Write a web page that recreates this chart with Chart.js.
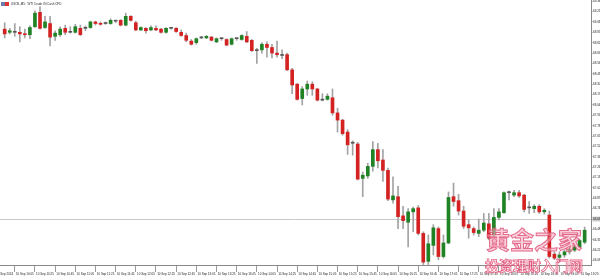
<!DOCTYPE html>
<html>
<head>
<meta charset="utf-8">
<script src="https://cdn.jsdelivr.net/npm/chart.js@4.4.1/dist/chart.umd.min.js"></script>
<style>
  html, body { margin: 0; padding: 0; background: #fff; }
  #wrap { position: relative; width: 600px; height: 277px; overflow: hidden; }
  .wm1 { position: absolute; left: 486px; top: 227px; font: 700 24px/1 "Noto Sans CJK SC", sans-serif;
         color: rgba(244, 175, 195, 0.6); -webkit-text-stroke: 1px rgba(224, 85, 120, 0.85); white-space: nowrap; }
  .wm2 { position: absolute; left: 485px; top: 258px; font: 700 14px/1 "Noto Sans CJK SC", sans-serif;
         color: rgba(255, 255, 255, 0.5); -webkit-text-stroke: 0.8px rgba(226, 70, 110, 0.85); white-space: nowrap; }
</style>
</head>
<body>
<div id="wrap">
  <canvas id="chart" width="600" height="277"></canvas>
  <div class="wm1">黄金之家</div>
  <div class="wm2">投资理财入门网</div>
</div>
<script>
// USOIL M5 candles
const opens = [68.99, 68.95, 68.95, 68.95, 68.93, 68.92, 69.02, 69.20, 69.01, 69.06,
  68.90, 68.92, 69.00, 68.95, 68.95, 69.00, 69.00, 69.01, 69.08, 69.06,
  69.06, 69.06, 69.09, 69.10, 69.04, 69.15, 69.07, 68.98, 69.00, 68.98,
  69.00, 68.99, 68.95, 69.00, 69.00, 68.95, 68.91, 68.84, 68.82, 68.88,
  68.88, 68.89, 68.83, 68.87, 68.86, 68.80, 68.87, 68.86, 68.90, 68.85,
  68.72, 68.73, 68.80, 68.76, 68.69, 68.66, 68.67, 68.48, 68.30, 68.12,
  68.24, 68.30, 68.24, 68.10, 68.11, 68.13, 67.94, 67.85, 67.70, 67.56,
  67.55, 67.12, 67.15, 67.27, 67.48, 67.35, 67.22, 66.85, 66.89, 66.65,
  66.57, 66.70, 66.75, 66.43, 66.08, 66.28, 66.49, 66.14, 66.31, 66.89,
  66.84, 66.71, 66.54, 66.49, 66.43, 66.47, 66.55, 66.41, 66.63, 66.69,
  66.94, 66.91, 66.94, 66.91, 66.75, 66.74, 66.77, 66.70, 66.66, 66.17,
  66.13, 66.16, 66.20, 66.22, 66.26, 66.32];
const highs = [69.07, 69.00, 69.06, 69.02, 68.99, 69.03, 69.22, 69.27, 69.15, 69.15,
  68.97, 69.02, 69.04, 69.02, 69.05, 69.04, 69.03, 69.09, 69.09, 69.08,
  69.08, 69.12, 69.10, 69.11, 69.19, 69.16, 69.09, 69.02, 69.01, 69.03,
  69.03, 69.00, 69.01, 69.01, 69.01, 68.98, 68.94, 68.86, 68.88, 68.90,
  68.91, 68.90, 68.88, 68.88, 68.87, 68.88, 68.88, 68.92, 68.96, 68.86,
  68.75, 68.82, 68.83, 68.80, 68.84, 68.73, 68.69, 68.50, 68.31, 68.27,
  68.34, 68.33, 68.25, 68.18, 68.18, 68.24, 68.00, 67.86, 67.73, 67.59,
  67.57, 67.20, 67.31, 67.58, 67.56, 67.48, 67.25, 67.14, 67.02, 66.77,
  66.74, 66.76, 66.78, 66.45, 66.41, 66.54, 66.51, 66.41, 66.95, 67.06,
  66.92, 66.77, 66.60, 66.51, 66.61, 66.68, 66.68, 66.74, 66.74, 66.95,
  66.96, 66.97, 66.97, 66.92, 66.83, 66.79, 66.79, 66.74, 66.71, 66.20,
  66.20, 66.22, 66.25, 66.29, 66.36, 66.51];
const lows = [68.88, 68.93, 68.90, 68.83, 68.88, 68.87, 69.01, 68.99, 69.00, 68.78,
  68.85, 68.90, 68.92, 68.94, 68.94, 68.91, 68.97, 69.00, 69.04, 69.04,
  69.05, 69.05, 69.07, 69.03, 69.03, 69.09, 68.97, 68.97, 68.94, 68.97,
  68.97, 68.94, 68.94, 68.99, 68.95, 68.90, 68.83, 68.79, 68.80, 68.87,
  68.87, 68.84, 68.82, 68.85, 68.78, 68.79, 68.85, 68.85, 68.82, 68.71,
  68.56, 68.69, 68.64, 68.63, 68.64, 68.62, 68.47, 68.18, 68.10, 68.04,
  68.16, 68.16, 68.09, 68.09, 68.10, 67.91, 67.70, 67.66, 67.42, 67.41,
  67.10, 66.89, 67.12, 67.21, 67.25, 67.08, 66.84, 66.81, 66.49, 66.49,
  66.26, 66.45, 66.41, 66.04, 66.04, 66.16, 66.10, 66.12, 66.30, 66.77,
  66.66, 66.49, 66.37, 66.41, 66.39, 66.45, 66.35, 66.39, 66.60, 66.68,
  66.85, 66.89, 66.88, 66.70, 66.68, 66.69, 66.68, 66.67, 66.12, 66.10,
  66.07, 66.13, 66.17, 66.20, 66.25, 66.30];
const closes = [68.93, 68.97, 68.95, 68.93, 68.92, 69.01, 69.19, 69.00, 69.08, 68.89,
  68.94, 68.99, 68.95, 68.95, 69.02, 68.92, 69.00, 69.08, 69.06, 69.05,
  69.06, 69.10, 69.09, 69.04, 69.15, 69.10, 68.98, 69.01, 68.97, 69.01,
  68.98, 68.95, 69.00, 69.00, 68.96, 68.91, 68.85, 68.80, 68.87, 68.88,
  68.90, 68.85, 68.87, 68.87, 68.79, 68.87, 68.87, 68.91, 68.83, 68.72,
  68.72, 68.80, 68.76, 68.69, 68.67, 68.66, 68.48, 68.29, 68.11, 68.24,
  68.30, 68.24, 68.10, 68.10, 68.15, 67.94, 67.85, 67.68, 67.54, 67.56,
  67.11, 67.16, 67.27, 67.48, 67.34, 67.22, 66.86, 66.90, 66.64, 66.59,
  66.70, 66.74, 66.43, 66.07, 66.30, 66.50, 66.14, 66.31, 66.88, 66.83,
  66.71, 66.52, 66.50, 66.44, 66.47, 66.56, 66.37, 66.63, 66.70, 66.94,
  66.94, 66.94, 66.90, 66.73, 66.75, 66.77, 66.70, 66.72, 66.14, 66.12,
  66.16, 66.20, 66.23, 66.26, 66.34, 66.47];

const xLabels = ['10 Sep 2024', '10 Sep 10:05', '10 Sep 10:25', '10 Sep 10:45', '10 Sep 11:05',
  '10 Sep 11:25', '10 Sep 11:45', '10 Sep 12:05', '10 Sep 12:25', '10 Sep 12:45',
  '10 Sep 13:05', '10 Sep 13:25', '10 Sep 13:45', '10 Sep 14:05', '10 Sep 14:25',
  '10 Sep 14:45', '10 Sep 15:05', '10 Sep 15:25', '10 Sep 15:45', '10 Sep 16:05',
  '10 Sep 16:25', '10 Sep 16:45', '10 Sep 17:05', '10 Sep 17:25', '10 Sep 17:45',
  '10 Sep 18:05', '10 Sep 18:25', '10 Sep 18:45', '10 Sep 19:05', '10 Sep 19:25'];
const yTicks = [69.34, 69.21, 69.08, 68.95, 68.82, 68.69, 68.56, 68.43, 68.30, 68.17,
  68.04, 67.91, 67.78, 67.65, 67.52, 67.39, 67.26, 67.13, 67.00, 66.87,
  66.74, 66.61, 66.48, 66.35, 66.22, 66.09];
const bidPrice = 66.61;
const barsPerLabel = 4;
const title = 'USOIL,M5:  WTI Crude Oil Cash CFD';

const UP = '#1f8224';
const DOWN = '#d42222';
const DOJI = '#555555';
const WICK = '#a3a3a3';

const bodies = opens.map((o, i) => ({ x: i, y: [o, closes[i]] }));
const wicks = lows.map((l, i) => ({ x: i, y: [l, highs[i]] }));
const bodyColors = opens.map((o, i) => closes[i] > o ? UP : closes[i] < o ? DOWN : DOJI);

const headerPlugin = {
    id: 'header',
    afterDraw(chart) {
        const c = chart.ctx;
        c.save();
        c.fillStyle = '#6d7fa8';
        c.fillRect(1, 2, 4, 4);
        c.fillStyle = '#d33';
        c.fillRect(5, 2, 4, 4);
        c.fillStyle = '#222';
        c.font = '3px "Liberation Sans", Arial, sans-serif';
        c.textBaseline = 'middle';
        c.fillText(title, 11, 4);
        c.restore();
    }
};

new Chart(document.getElementById('chart'), {
    type: 'bar',
    data: {
        datasets: [{
            data: bodies,
            backgroundColor: bodyColors,
            borderWidth: 0,
            barThickness: 3,
            minBarLength: 1,
            grouped: false
        }, {
            data: wicks,
            backgroundColor: WICK,
            borderWidth: 0,
            barThickness: 1,
            grouped: false
        }]
    },
    options: {
        responsive: false,
        animation: false,
        devicePixelRatio: 1,
        layout: { padding: 0 },
        plugins: { legend: { display: false }, tooltip: { enabled: false } },
        scales: {
            x: {
                type: 'linear',
                min: -0.93,
                max: 116.26,
                offset: false,
                afterBuildTicks: (scale) => {
                    scale.ticks = xLabels.map((_, i) => ({ value: i * barsPerLabel }));
                },
                afterFit: (scale) => {
                    scale.height = 12;
                    scale.paddingLeft = 0;
                    scale.paddingRight = 0;
                },
                ticks: {
                    autoSkip: false,
                    maxRotation: 0,
                    padding: 0,
                    color: '#222',
                    font: { size: 3, family: '"Liberation Sans", Arial, sans-serif' },
                    callback: (value) => xLabels[value / barsPerLabel]
                },
                grid: { drawOnChartArea: false, offset: true, tickLength: 7, tickColor: '#9a9a9a' },
                border: { color: '#8a8a8a', width: 1 }
            },
            y: {
                position: 'right',
                min: 66.034,
                max: 69.355,
                afterBuildTicks: (scale) => {
                    scale.ticks = yTicks.map(v => ({ value: v }));
                },
                afterFit: (scale) => {
                    scale.width = 9;
                    scale.paddingTop = 0;
                    scale.paddingBottom = 0;
                },
                ticks: {
                    padding: 0.5,
                    color: '#222',
                    font: { size: 3, family: '"Liberation Sans", Arial, sans-serif' },
                    callback: (value) => value.toFixed(2),
                    showLabelBackdrop: true,
                    backdropPadding: 0.6,
                    backdropColor: (ctx) => ctx.tick && ctx.tick.value === bidPrice ? '#c8c8c8' : 'rgba(0,0,0,0)'
                },
                grid: {
                    drawOnChartArea: true,
                    tickLength: 1.5,
                    tickColor: '#8a8a8a',
                    color: (ctx) => ctx.tick && ctx.tick.value === bidPrice ? '#c9c9c9' : 'rgba(0,0,0,0)'
                },
                border: { color: '#8a8a8a', width: 1 }
            }
        }
    },
    plugins: [headerPlugin]
});
</script>
</body>
</html>
